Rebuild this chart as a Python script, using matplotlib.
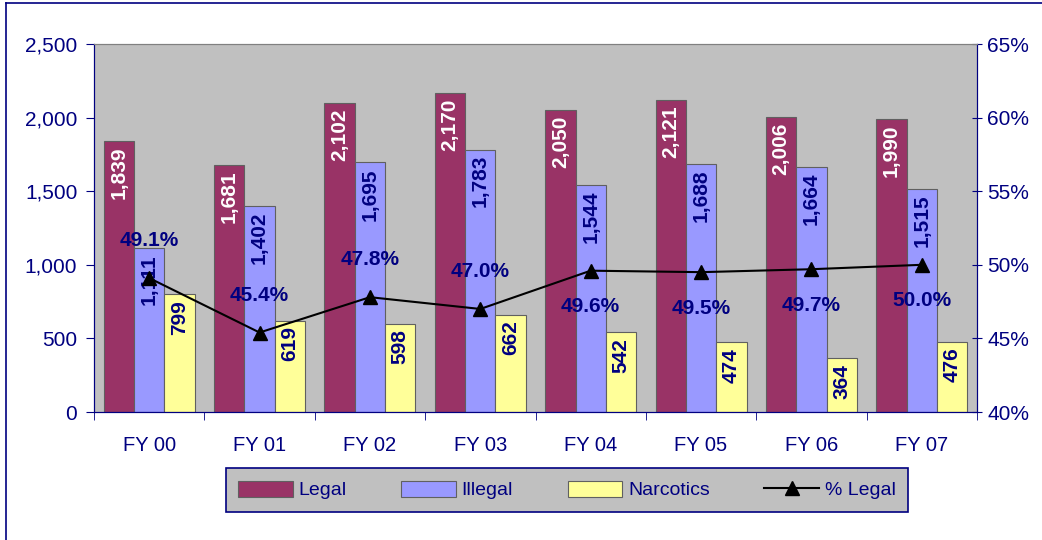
import numpy as np
import matplotlib
matplotlib.use("Agg")
import matplotlib.pyplot as plt
from matplotlib.lines import Line2D
from matplotlib.ticker import FuncFormatter

plt.rcParams['font.family'] = ['Liberation Sans', 'DejaVu Sans']

years = ['FY 00', 'FY 01', 'FY 02', 'FY 03', 'FY 04', 'FY 05', 'FY 06', 'FY 07']
legal = [1839, 1681, 2102, 2170, 2050, 2121, 2006, 1990]
illegal = [1111, 1402, 1695, 1783, 1544, 1688, 1664, 1515]
narcotics = [799, 619, 598, 662, 542, 474, 364, 476]
pct_legal = [49.1, 45.4, 47.8, 47.0, 49.6, 49.5, 49.7, 50.0]
pct_label_above = [True, True, True, True, False, False, False, False]

navy = '#000080'
fig = plt.figure(figsize=(10.42, 5.40), dpi=100)
ax = fig.add_axes([94 / 1042, 1 - 412 / 540, (977 - 94) / 1042, (412 - 44) / 540])
ax.set_facecolor('#C0C0C0')

x = np.arange(len(years))
w = 0.275
series = [(legal, '#993366', 'Legal', 'white'),
          (illegal, '#9999FF', 'Illegal', navy),
          (narcotics, '#FFFF99', 'Narcotics', navy)]
for k, (vals, col, name, tcol) in enumerate(series):
    bars = ax.bar(x + (k - 1) * w, vals, w, color=col, edgecolor='#606060',
                  linewidth=0.8, label=name, zorder=2)
    for b, v in zip(bars, vals):
        ax.annotate(f'{v:,}', (b.get_x() + b.get_width() / 2, v),
                    xytext=(0, -4), textcoords='offset points', rotation=90,
                    ha='center', va='top', color=tcol, fontsize=15,
                    fontweight='bold', zorder=4)

ax.set_xlim(-0.5, len(years) - 0.5)
ax.set_ylim(0, 2500)
ax.set_yticks(range(0, 2501, 500))
ax.yaxis.set_major_formatter(FuncFormatter(lambda v, p: f'{int(v):,}'))
ax.set_xticks(x)
ax.set_xticklabels(years)
ax.set_xticks(np.arange(-0.5, len(years), 1), minor=True)
ax.tick_params(axis='x', which='major', length=0, pad=17, labelsize=14.5, labelcolor=navy)
ax.tick_params(axis='x', which='minor', length=6, color=navy, direction='out')
ax.tick_params(axis='y', length=6, color=navy, labelsize=15, labelcolor=navy, pad=6)
for s in ['left', 'bottom', 'right']:
    ax.spines[s].set_color(navy)
ax.spines['top'].set_color('#808080')

ax2 = ax.twinx()
ax2.plot(x, pct_legal, color='black', marker='^', markersize=10, linewidth=1.5,
         label='% Legal', zorder=5)
ax2.set_ylim(40, 65)
ax2.set_yticks(range(40, 66, 5))
ax2.yaxis.set_major_formatter(FuncFormatter(lambda v, p: f'{int(v)}%'))
ax2.tick_params(axis='y', length=7, direction='inout', color=navy, labelsize=15,
                labelcolor=navy, pad=4)
for s in ['left', 'bottom', 'right']:
    ax2.spines[s].set_color(navy)
ax2.spines['top'].set_color('#808080')
for xi, p, above in zip(x, pct_legal, pct_label_above):
    ax2.annotate(f'{p:.1f}%', (xi, p), xytext=(0, 27 if above else -26),
                 textcoords='offset points', ha='center', va='center',
                 color=navy, fontsize=15, fontweight='bold', zorder=6)

h1, l1 = ax.get_legend_handles_labels()
h2, l2 = ax2.get_legend_handles_labels()
leg = fig.legend(h1 + h2, l1 + l2, ncol=4, mode='expand', loc='center',
                 bbox_to_anchor=(216 / 1042, 1 - 516 / 540, 702 / 1042, 52 / 540),
                 frameon=True, fancybox=False, facecolor='#C0C0C0', edgecolor=navy,
                 fontsize=14, handlelength=2.8, handleheight=0.9, handletextpad=0.3,
                 borderpad=0.65)
leg.get_frame().set_linewidth(1.2)
leg.get_frame().set_alpha(1)
for t in leg.get_texts():
    t.set_color(navy)

# outer chart border
fig.add_artist(Line2D([6 / 1042, 6 / 1042], [0, 1 - 3 / 540], color=navy, linewidth=1.2))
fig.add_artist(Line2D([6 / 1042, 1], [1 - 3 / 540, 1 - 3 / 540], color=navy, linewidth=1.2))

fig.savefig('out.png', dpi=100)
